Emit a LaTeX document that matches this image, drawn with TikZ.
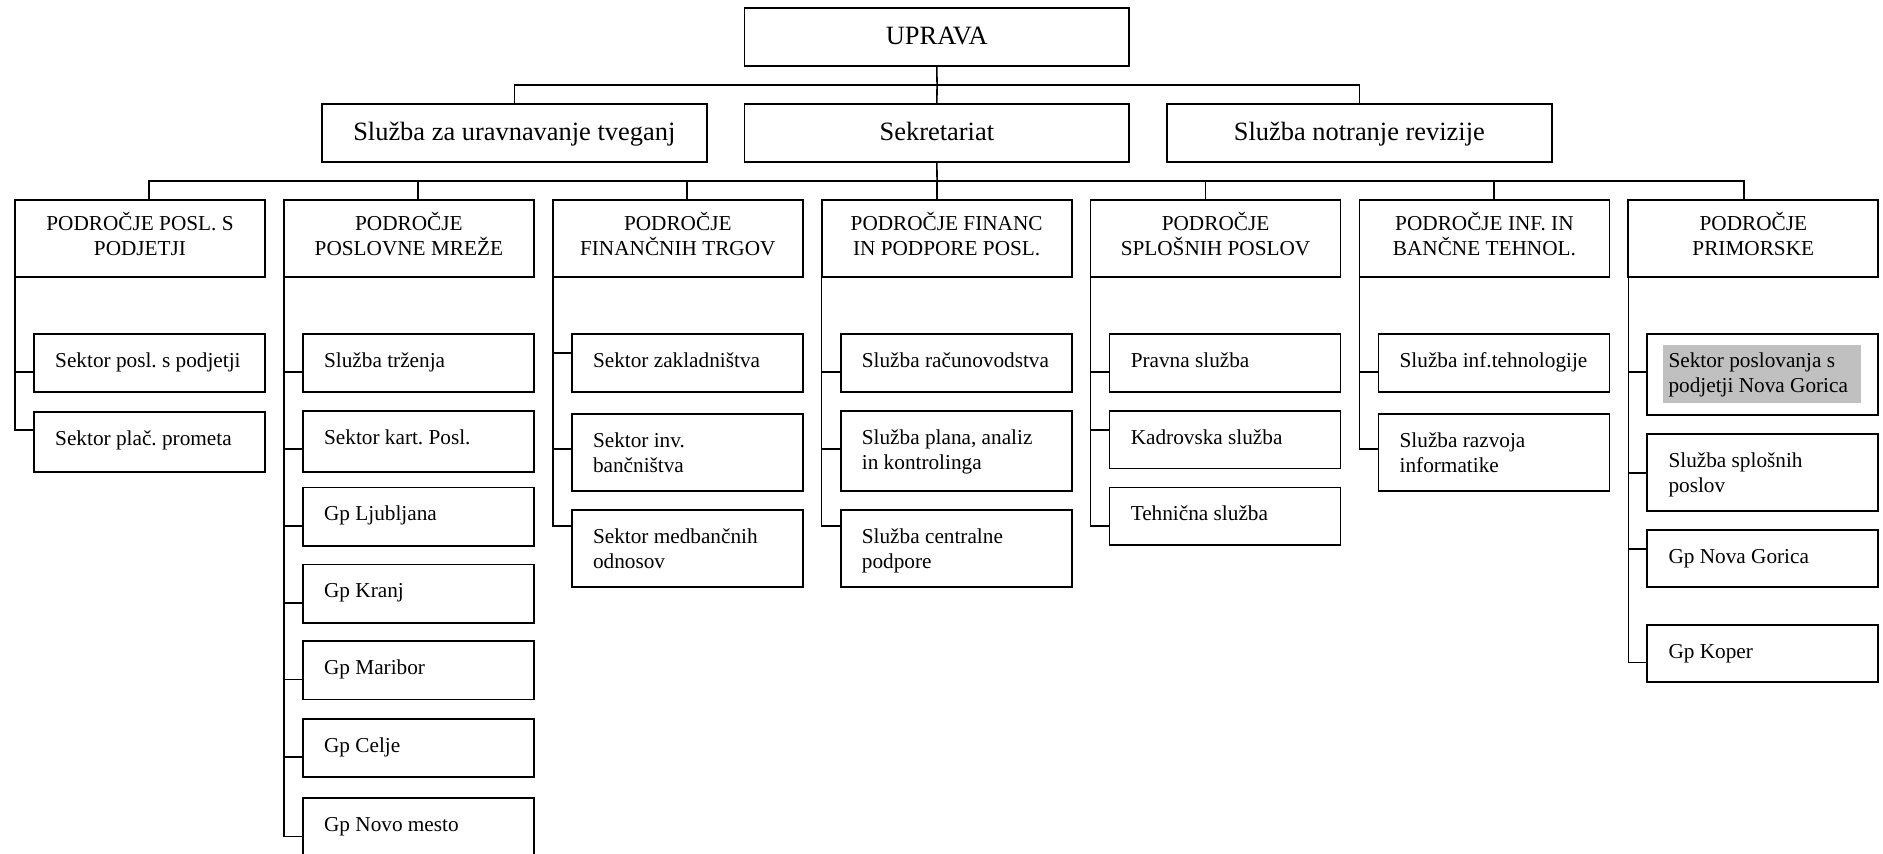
\documentclass[tikz,border=0pt]{standalone}
\usepackage{fontspec}
\setmainfont{Liberation Serif}

% one unit = 1pt; y grows downwards
\definecolor{hlgray}{RGB}{192,192,192}
\tikzset{
  orgframe/.style={draw=black, line width=1.5pt, rectangle, inner sep=0pt, outer sep=0pt, anchor=north west},
  topframe/.style={orgframe, minimum height=48.4pt,
    font=\fontsize{22}{26}\selectfont, text height=14pt, text depth=1.2pt},
  areaframe/.style={orgframe, minimum width=208.2pt, minimum height=63.9pt},
  unitframe/.style={orgframe, minimum width=192.4pt},
  areatext/.style={font=\fontsize{17.7}{20.8}\selectfont, align=center, inner sep=0pt, anchor=north},
  unittext/.style={font=\fontsize{17.7}{20.8}\selectfont, align=left, inner sep=0pt, anchor=north west},
  link/.style={draw=black, line width=1.3pt},
  highlight/.style={fill=hlgray, draw=none}
}

% area header: name, left x, text
\newcommand\areabox[3]{%
  \node[areaframe] (#1) at (#2,166.5) {};
  \node[areatext] (#1-t) at ([yshift=-9.3pt]#1.north) {\rule{0pt}{16pt}#3};
}
% unit box: name, left x, top y, height, text
\newcommand\unitbox[5]{%
  \node[unitframe, minimum height=#4pt] (#1) at (#2,#3) {};
  \node[unittext] (#1-t) at ([xshift=17.5pt,yshift=-11.6pt]#1.north west) {\rule{0pt}{16pt}#5};
}
% bracket from an area box to one of its units, joining at the given drop
\newcommand\hook[3]{\draw[link] (#1.south west) |- ([yshift=-#3pt]#2.north west);}

\begin{document}
\frenchspacing
\begin{tikzpicture}[x=1pt,y=-1pt]
\useasboundingbox (0,0) rectangle (1568,711);

% management and staff services
\node[topframe, minimum width=320.4pt] (uprava) at (619.9,6.4) {UPRAVA};
\node[topframe, minimum width=320.5pt] (risk)   at (268,86.4)  {Služba za uravnavanje tveganj};
\node[topframe, minimum width=320.3pt] (sek)    at (620,86.4)  {Sekretariat};
\node[topframe, minimum width=320.3pt] (audit)  at (971.8,86.4) {Služba notranje revizije};

\coordinate (bus1) at (780.3,70.8);
\coordinate (bus2) at (780.3,150.7);
\draw[link] (uprava.south) -- (bus1) -- (sek.north);
\draw[link] (bus1) -| (risk.north);
\draw[link] (bus1) -| (audit.north);
\draw[link] (sek.south) -- (bus2);

% business areas
\areabox{c1}{12.5}{PODROČJE POSL. S\\PODJETJI}
\areabox{c2}{236.4}{PODROČJE\\POSLOVNE MREŽE}
\areabox{c3}{460.3}{PODROČJE\\FINANČNIH TRGOV}
\areabox{c4}{684.2}{PODROČJE FINANC\\IN PODPORE POSL.}
\areabox{c5}{908.1}{PODROČJE\\SPLOŠNIH POSLOV}
\areabox{c6}{1132}{PODROČJE INF. IN\\BANČNE TEHNOL.}
\areabox{c7}{1355.9}{PODROČJE\\PRIMORSKE}

\draw[link] (bus2) -| ([xshift=111.8pt]c1.north west);
\draw[link] (bus2) -| ([xshift=111.9pt]c2.north west);
\draw[link] (bus2) -| ([xshift=111.7pt]c3.north west);
\draw[link] (bus2) -- ([xshift=96.1pt]c4.north west);
\draw[link] (bus2) -| ([xshift=95.6pt]c5.north west);
\draw[link] (bus2) -| ([xshift=112pt]c6.north west);
\draw[link] (bus2) -| ([xshift=96.1pt]c7.north west);

% units of each area
\unitbox{s11}{28.3}{278}{48.5}{Sektor posl. s podjetji}
\unitbox{s12}{28.3}{342.8}{50.5}{Sektor plač. prometa}
\hook{c1}{s11}{32}
\hook{c1}{s12}{15.2}

\unitbox{s21}{252.2}{278}{48.5}{Služba trženja}
\unitbox{s22}{252.2}{342}{51}{Sektor kart. Posl.}
\unitbox{s23}{252.2}{406}{48.5}{Gp Ljubljana}
\unitbox{s24}{252.2}{470}{48.5}{Gp Kranj}
\unitbox{s25}{252.2}{534}{48.5}{Gp Maribor}
\unitbox{s26}{252.2}{598.4}{48.5}{Gp Celje}
\unitbox{s27}{252.2}{664.5}{48.5}{Gp Novo mesto}
\hook{c2}{s21}{32}
\hook{c2}{s22}{32}
\hook{c2}{s23}{32}
\hook{c2}{s24}{32}
\hook{c2}{s25}{32}
\hook{c2}{s26}{31.8}
\hook{c2}{s27}{32}

\unitbox{s31}{476.1}{278}{48.5}{Sektor zakladništva}
\unitbox{s32}{476.1}{345}{64}{Sektor inv.\\bančništva}
\unitbox{s33}{476.1}{424.7}{64.3}{Sektor medbančnih\\odnosov}
\hook{c3}{s31}{16}
\hook{c3}{s32}{29}
\hook{c3}{s33}{13.3}

\unitbox{s41}{700}{278}{48.5}{Služba računovodstva}
\unitbox{s42}{700}{342.4}{66.6}{Služba plana, analiz\\in kontrolinga}
\unitbox{s43}{700}{424.7}{64.3}{Služba centralne\\podpore}
\hook{c4}{s41}{32}
\hook{c4}{s42}{31.6}
\hook{c4}{s43}{13.3}

\unitbox{s51}{923.9}{278}{48.5}{Pravna služba}
\unitbox{s52}{923.9}{342.4}{47.8}{Kadrovska služba}
\unitbox{s53}{923.9}{406}{48}{Tehnična služba}
\hook{c5}{s51}{32}
\hook{c5}{s52}{15.6}
\hook{c5}{s53}{32}

\unitbox{s61}{1147.8}{278}{48.5}{Služba inf.tehnologije}
\unitbox{s62}{1147.8}{345}{64}{Služba razvoja\\informatike}
\hook{c6}{s61}{32}
\hook{c6}{s62}{29}

\fill[highlight] (1385,287.3) rectangle (1550,335.8);
\unitbox{s71}{1371.7}{278}{67.6}{Sektor poslovanja s\\podjetji Nova Gorica}
\unitbox{s72}{1371.7}{361.7}{63.5}{Služba splošnih\\poslov}
\unitbox{s73}{1371.7}{441.3}{47.2}{Gp Nova Gorica}
\unitbox{s74}{1371.7}{520.4}{47.8}{Gp Koper}
\hook{c7}{s71}{32}
\hook{c7}{s72}{32.3}
\hook{c7}{s73}{15.9}
\hook{c7}{s74}{31.1}
\end{tikzpicture}
\end{document}
